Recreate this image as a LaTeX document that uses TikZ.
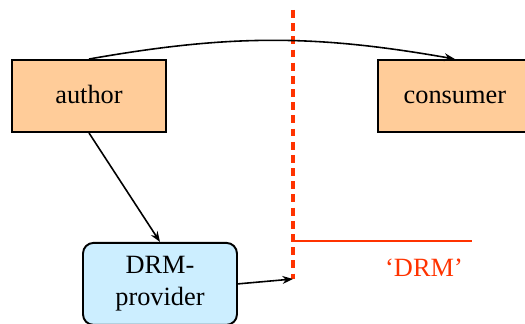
\documentclass[tikz,border=0pt]{standalone}
\usepackage{fontspec}
\setmainfont{Liberation Serif}
\usetikzlibrary{arrows.meta, positioning}

\definecolor{peach}{HTML}{FFCC99}
\definecolor{skyblue}{HTML}{CCEEFF}
\definecolor{drmred}{HTML}{FF3300}

\begin{document}
\begin{tikzpicture}[x=0.02cm, y=-0.02cm,
	every node/.style={font=\fontsize{15}{18.5}\selectfont},
	party/.style={draw, line width=1.1pt, fill=peach, minimum width=3.08cm, minimum height=1.44cm, text height=2ex, text depth=0.25ex},
	service/.style={draw, line width=1.1pt, fill=skyblue, rounded corners=6pt, align=center, minimum width=3.08cm, minimum height=1.64cm},
	flow/.style={-{Stealth[length=6pt, width=4.5pt]}, line width=0.9pt}]
	
	\useasboundingbox (0,0) rectangle (525,324);
	
	\node[party] (A) at (89,96) 					{author};
	\node[party, right=4.2cm of A] (C) 				{consumer};
	\node[service, below=2.18cm of A, xshift=1.42cm] (P) {DRM-\\provider};
	
	% the boundary
	\coordinate (top) at (293,10);
	\coordinate (gate) at (293,279);
	\coordinate (rim) at (472,241);
	\draw[drmred, line width=2.2pt, dash pattern=on 4.5pt off 3pt] (top) -- (gate);
	\draw[drmred, line width=0.8pt] (gate |- rim) -- (rim);
	\node[drmred] (L) at (424,268) {‘DRM’};
	
	\draw[flow] (A.north) to[bend left=10] (C.north);
	\draw[flow] (A.south) -- (P.north);
	\draw[flow] (P.east) -- (gate);
\end{tikzpicture}
\end{document}
